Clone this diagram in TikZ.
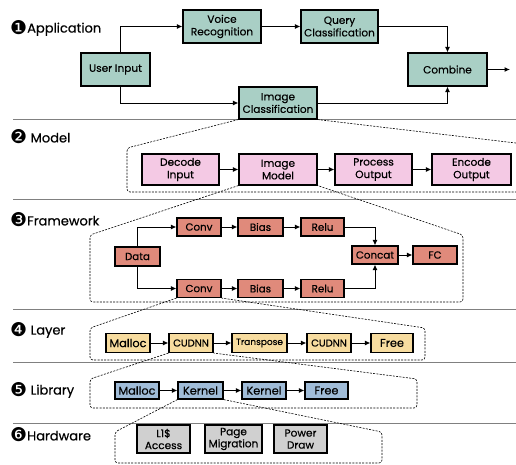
\documentclass[tikz,border=0pt]{standalone}
\usepackage{fontspec}
\setmainfont{Poppins}[FakeBold=0.45]
\newfontfamily\numfontx{DejaVu Sans}
\newcommand{\circnum}[1]{{\numfontx\fontsize{19}{19}\selectfont\raisebox{-1.5pt}{#1}}}
\usetikzlibrary{arrows.meta}
\definecolor{cteal}{HTML}{A9CFC5}
\definecolor{cpink}{HTML}{F4C9E4}
\definecolor{csalmon}{HTML}{E08A7B}
\definecolor{cyellow}{HTML}{F7DC9F}
\definecolor{cblue}{HTML}{A0BCD8}
\definecolor{cgray}{HTML}{D0D0D0}
\definecolor{csep}{HTML}{808080}
\begin{document}
\begin{tikzpicture}[x=1pt,y=-1pt,
  box/.style={draw=black,line width=1.1pt,inner sep=0pt,align=center,font=\fontsize{10.5}{12.5}\selectfont},
  appbox/.style={box,fill=cteal},
  modbox/.style={box,fill=cpink},
  fwbox/.style={box,fill=csalmon,font=\fontsize{10.3}{10}\selectfont},
  laybox/.style={box,fill=cyellow,font=\fontsize{11.3}{10}\selectfont},
  libbox/.style={box,fill=cblue,font=\fontsize{11.3}{10}\selectfont},
  hwbox/.style={box,fill=cgray,font=\fontsize{10.5}{12}\selectfont},
  arr/.style={line width=1pt,-{Latex[length=5.5pt,width=5pt]}},
  sep/.style={draw=csep,line width=1pt},
  region/.style={dashed,dash pattern=on 2pt off 1.3pt,line width=0.6pt,rounded corners=3pt},
  sec/.style={anchor=west,inner sep=0pt,font=\fontsize{13}{14}\selectfont}]
\useasboundingbox (0,0) rectangle (516,464);
% separators
\draw[sep] (13,119) -- (516,119);
\draw[sep] (13,199.5) -- (516,199.5);
\draw[sep] (13,309) -- (516,309);
\draw[sep] (13,362.5) -- (516,362.5);
\draw[sep] (13,423) -- (516,423);
% section labels
\node[sec] (l1) at (10,28) {\circnum{❶}Application};
\node[sec] (l2) at (10,137) {\circnum{❷} Model};
\node[sec] (l3) at (10,220) {\circnum{❸}Framework};
\node[sec] (l4) at (10,330) {\circnum{❹} Layer};
\node[sec] (l5) at (10,390) {\circnum{❺} Library};
\node[sec] (l6) at (10,435) {\circnum{❻}Hardware};
% Application
\node[appbox,minimum width=69pt,minimum height=33pt] (user) at (115.5,69.5) {User Input};
\node[appbox,minimum width=78pt,minimum height=33pt] (voice) at (222,26.5) {Voice\\Recognition};
\node[appbox,minimum width=77pt,minimum height=33pt] (query) at (339.5,26.5) {Query\\Classification};
\node[appbox,minimum width=79pt,minimum height=33pt] (comb) at (447.5,69.5) {Combine};
\node[appbox,minimum width=78pt,minimum height=32pt] (imgc) at (278,103) {Image\\Classification};
\coordinate (out) at (510,69.5);
\draw[arr] ([xshift=4.5pt]user.north) |- (voice.west);
\draw[arr] (voice) -- (query);
\draw[arr] (query.east) -| (comb.north);
\draw[arr] ([xshift=4.5pt]user.south) |- (imgc.west);
\draw[arr] (imgc.east) -| (comb.south);
\draw[arr] (comb) -- (out);
% Model
\node[modbox,minimum width=77pt,minimum height=31pt] (dec) at (180.5,169.5) {Decode\\Input};
\node[modbox,minimum width=78pt,minimum height=31pt] (imod) at (278,169.5) {Image\\Model};
\node[modbox,minimum width=77pt,minimum height=31pt] (proc) at (373.5,169.5) {Process\\Output};
\node[modbox,minimum width=79pt,minimum height=31pt] (enc) at (471.5,169.5) {Encode\\Output};
\draw[arr] (dec) -- (imod);
\draw[arr] (imod) -- (proc);
\draw[arr] (proc) -- (enc);
\draw[region] (imgc.south west) -- (127,148) -- (127,192) -- (520,192);
\draw[region] (imgc.south east) -- (520,143.5);
% Framework
\node[fwbox,minimum width=44pt,minimum height=18pt] (conv1) at (199,227) {Conv};
\node[fwbox,minimum width=45pt,minimum height=18pt] (bias1) at (260.5,227) {Bias};
\node[fwbox,minimum width=43pt,minimum height=18pt] (relu1) at (322.5,227) {Relu};
\node[fwbox,minimum width=44pt,minimum height=18pt] (conv2) at (199,288.5) {Conv};
\node[fwbox,minimum width=45pt,minimum height=18pt] (bias2) at (260.5,288.5) {Bias};
\node[fwbox,minimum width=43pt,minimum height=18pt] (relu2) at (322.5,288.5) {Relu};
\node[fwbox,minimum width=45pt,minimum height=19pt] (data) at (137.5,256.5) {Data};
\node[fwbox,minimum width=46pt,minimum height=18pt] (concat) at (375,255) {Concat};
\node[fwbox,minimum width=44pt,minimum height=18pt] (fc) at (435,255) {FC};
\draw[arr] (data.north) |- (conv1.west);
\draw[arr] (data.south) |- (conv2.west);
\draw[arr] (conv1) -- (bias1);
\draw[arr] (bias1) -- (relu1);
\draw[arr] (conv2) -- (bias2);
\draw[arr] (bias2) -- (relu2);
\draw[arr] (relu1.east) -| (concat.north);
\draw[arr] (relu2.east) -| (concat.south);
\draw[arr] (concat) -- (fc);
\draw[region] (imod.south west) -- (90,235) -- (90,302) -- (463,302) -- (463,235) -- (imod.south east);
% Layer
\node[laybox,minimum width=44pt,minimum height=19pt] (malloc) at (128,343) {Malloc};
\node[laybox,minimum width=44pt,minimum height=19pt,font=\fontsize{10}{8}\selectfont] (cud1) at (191,343) {CUDNN};
\node[laybox,minimum width=55pt,minimum height=19pt,font=\fontsize{9}{7}\selectfont] (trans) at (259.5,343) {Transpose};
\node[laybox,minimum width=44pt,minimum height=19pt,font=\fontsize{10}{8}\selectfont] (cud2) at (329,343) {CUDNN};
\node[laybox,minimum width=42pt,minimum height=19pt] (free) at (392,343) {Free};
\draw[arr] (malloc) -- (cud1);
\draw[arr] (cud1) -- (trans);
\draw[arr] (trans) -- (cud2);
\draw[arr] (cud2) -- (free);
\draw[region] (conv2.south west) -- (90,328) -- (90,360) -- (425,360) -- (425,328) -- (conv2.south east);
% Library
\node[libbox,minimum width=44pt,minimum height=17pt] (lmalloc) at (137,390.5) {Malloc};
\node[libbox,minimum width=45pt,minimum height=17pt] (kern1) at (200.5,390.5) {Kernel};
\node[libbox,minimum width=44pt,minimum height=17pt] (kern2) at (264,390.5) {Kernel};
\node[libbox,minimum width=43pt,minimum height=17pt] (lfree) at (326.5,390.5) {Free};
\draw[arr] (lmalloc) -- (kern1);
\draw[arr] (kern1) -- (kern2);
\draw[arr] (kern2) -- (lfree);
\draw[region] (cud1.south west) -- (90,379) -- (90,408) -- (417,408) -- (417,379) -- (cud1.south east);
% Hardware
\node[hwbox,minimum width=53pt,minimum height=28pt] (l1) at (163.5,439) {L1\$\\Access};
\node[hwbox,minimum width=57pt,minimum height=28pt] (page) at (233.5,439) {Page\\Migration};
\node[hwbox,minimum width=53pt,minimum height=28pt] (power) at (300.5,439) {Power\\Draw};
\draw[region] (kern1.south west) -- (115,432) -- (115,463) -- (382,463) -- (382,432) -- (kern1.south east);
\end{tikzpicture}
\end{document}
